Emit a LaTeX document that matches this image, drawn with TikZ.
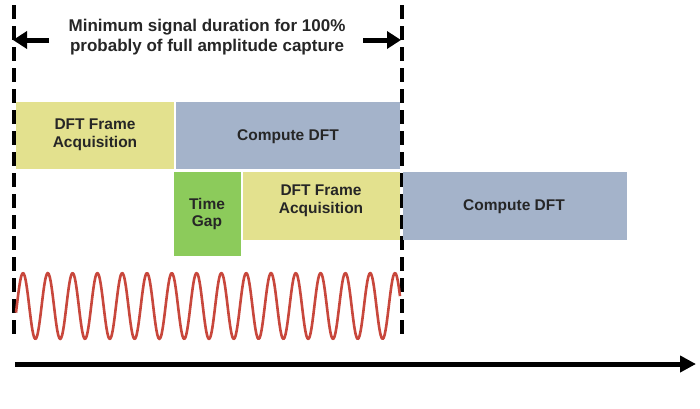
\documentclass[tikz,border=0pt]{standalone}
\usepackage{fontspec}
\setmainfont{Liberation Sans}
\usetikzlibrary{arrows.meta}
\definecolor{acqyellow}{HTML}{E3E18E}
\definecolor{compblue}{HTML}{A4B3CA}
\definecolor{gapgreen}{HTML}{8CCB5B}
\definecolor{wavered}{HTML}{C8473C}
\tikzset{
  box/.style={draw=none, inner sep=0pt, font=\bfseries\fontsize{15.5}{17.5}\selectfont, text=black!85, align=center},
  dashline/.style={line width=3.5pt, dash pattern=on 14pt off 7pt, black},
  bigarrow/.style={line width=5pt, -{Triangle[length=14pt,width=17pt]}},
}
\begin{document}
\begin{tikzpicture}[x=1pt,y=-1pt]
\useasboundingbox (0,0) rectangle (700,408);
\fill[white] (0,0) rectangle (700,408);
% dashed boundaries
\coordinate (lt) at (14,5);
\coordinate (lb) at (14,341);
\coordinate (rt) at (402,5);
\coordinate (rb) at (402,341);
\draw[dashline] (lt) -- (lb);
\draw[dashline] (rt) -- (rb);
% title
\node[font=\bfseries\fontsize{17}{20}\selectfont, text=black!85, align=center] (title) at (207,37) {Minimum signal duration for 100\%\\probably of full amplitude capture};
\coordinate (la0) at (49,40);
\coordinate (la1) at (13,40);
\coordinate (ra0) at (363,40);
\coordinate (ra1) at (401,40);
\draw[bigarrow] (la0) -- (la1);
\draw[bigarrow] (ra0) -- (ra1);
% row 1
\fill[acqyellow] (16,102) rectangle (174,169);
\node[box] (acq1) at (95,135) {DFT Frame\\Acquisition};
\fill[compblue] (176,102) rectangle (400,169);
\node[box] (comp1) at (288,137) {Compute DFT};
% row 2
\fill[gapgreen] (174,172) rectangle (241,256);
\node[box] (gap) at (207,214) {Time\\Gap};
\fill[acqyellow] (243,172) rectangle (400,240);
\node[box] (acq2) at (321,201) {DFT Frame\\Acquisition};
\fill[compblue] (403,172) rectangle (627,240);
\node[box] (comp2) at (514,207) {Compute DFT};
% wave
\draw[wavered, line width=2.6pt, line join=round] plot[domain=16:400, samples=400, smooth] (\x, {306-33*cos(14.516*(\x-23))});
% time axis
\coordinate (t0) at (15,364);
\coordinate (t1) at (696,364);
\draw[line width=5pt, -{Triangle[length=16pt,width=16pt]}] (t0) -- (t1);
\end{tikzpicture}
\end{document}
